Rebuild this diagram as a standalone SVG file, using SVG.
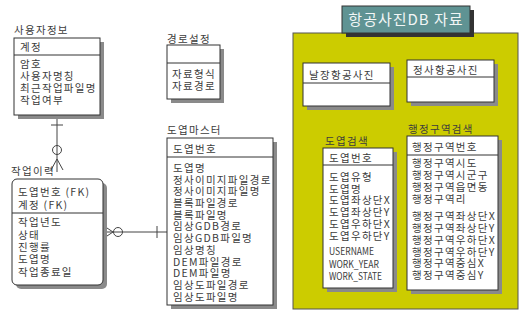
<svg xmlns="http://www.w3.org/2000/svg" width="521" height="320" viewBox="0 0 521 320">
<style>
text{font-family:"Noto Sans CJK KR","Noto Sans",sans-serif;font-size:10.5px;letter-spacing:1.3px;fill:#3c3c3c}
text.lat{letter-spacing:0px;font-size:10px}
.box{fill:#fff;stroke:#333;stroke-width:1}
.sh{fill:#8a8a8a}
.div{stroke:#333;stroke-width:1}
.ln{stroke:#444;stroke-width:1;fill:none}
</style>
<rect width="521" height="320" fill="#fff"/>
<g id="area">
<rect x="293" y="33" width="225" height="276" fill="#cccc00" stroke="#555" stroke-width="1"/>
<rect x="346" y="10" width="128" height="27" fill="#333"/>
<rect x="342" y="6" width="128" height="27" fill="#5f9393" stroke="#333" stroke-width="1"/>
<text x="406" y="25" text-anchor="middle" style="font-size:15px;letter-spacing:1px;fill:#f2f6f6">항공사진DB 자료</text>
</g>
<g id="connectors">
<line class="ln" x1="57" y1="116" x2="57" y2="172"/>
<line class="ln" x1="51" y1="125" x2="63" y2="125"/>
<circle class="ln" cx="57" cy="150" r="4.5" fill="#fff"/>
<line class="ln" x1="57" y1="159" x2="51" y2="170"/>
<line class="ln" x1="57" y1="159" x2="63" y2="170"/>
<line class="ln" x1="104" y1="232" x2="167" y2="232"/>
<line class="ln" x1="113" y1="232" x2="104" y2="226"/>
<line class="ln" x1="113" y1="232" x2="104" y2="238"/>
<circle class="ln" cx="118" cy="232" r="4.5" fill="#fff"/>
<line class="ln" x1="157" y1="226" x2="157" y2="238"/>
</g>
<g id="user">
<text x="14" y="34">사용자정보</text>
<rect class="sh" x="18" y="42" width="86" height="77"/>
<rect class="box" x="14" y="38" width="86" height="77"/>
<line class="div" x1="14" y1="55" x2="100" y2="55"/>
<text x="20" y="51">계정</text>
<text x="20" y="68">암호</text>
<text x="20" y="80">사용자명칭</text>
<text x="20" y="92">최근작업파일명</text>
<text x="20" y="104">작업여부</text>
</g>
<g id="route">
<text x="167" y="43">경로설정</text>
<rect class="sh" x="171" y="49" width="53" height="54"/>
<rect class="box" x="167" y="45" width="53" height="54"/>
<line class="div" x1="167" y1="63" x2="220" y2="63"/>
<text x="172" y="78">자료형식</text>
<text x="172" y="90">자료경로</text>
</g>
<g id="history">
<text x="11" y="175">작업이력</text>
<rect class="sh" x="16" y="183" width="91" height="106" rx="5"/>
<rect class="box" x="12" y="179" width="91" height="106" rx="5"/>
<line class="div" x1="12" y1="213" x2="103" y2="213"/>
<text x="18" y="196">도엽번호 (FK)</text>
<text x="18" y="209">계정 (FK)</text>
<text x="18" y="226">작업년도</text>
<text x="18" y="239">상태</text>
<text x="18" y="251">진행률</text>
<text x="18" y="263">도엽명</text>
<text x="18" y="276">작업종료일</text>
</g>
<g id="master">
<text x="167" y="134">도엽마스터</text>
<rect class="sh" x="171" y="142" width="106" height="167"/>
<rect class="box" x="167" y="138" width="106" height="167"/>
<line class="div" x1="167" y1="157" x2="273" y2="157"/>
<text x="173" y="153">도엽번호</text>
<text x="173" y="172">도엽명</text>
<text x="173" y="184">정사이미지파일경로</text>
<text x="173" y="195">정사이미지파일명</text>
<text x="173" y="207">블록파일경로</text>
<text x="173" y="219">블록파일명</text>
<text x="173" y="230">임상GDB경로</text>
<text x="173" y="242">임상GDB파일명</text>
<text x="173" y="254">임상명칭</text>
<text x="173" y="266">DEM파일경로</text>
<text x="173" y="277">DEM파일명</text>
<text x="173" y="289">임상도파일경로</text>
<text x="173" y="301">임상도파일명</text>
</g>
<g id="raw">
<rect class="sh" x="307" y="67" width="87" height="43"/>
<rect class="box" x="303" y="63" width="87" height="43"/>
<line class="div" x1="303" y1="83" x2="390" y2="83"/>
<text x="309" y="79">날장항공사진</text>
</g>
<g id="ortho">
<rect class="sh" x="411" y="64" width="87" height="42"/>
<rect class="box" x="407" y="60" width="87" height="42"/>
<line class="div" x1="407" y1="77" x2="494" y2="77"/>
<text x="413" y="74">정사항공사진</text>
</g>
<g id="sheet">
<text x="325" y="145">도엽검색</text>
<rect class="sh" x="327" y="152" width="70" height="140"/>
<rect class="box" x="323" y="148" width="70" height="140"/>
<line class="div" x1="323" y1="165" x2="393" y2="165"/>
<text x="329" y="162">도엽번호</text>
<text x="329" y="181">도엽유형</text>
<text x="329" y="193">도엽명</text>
<text x="329" y="204">도엽좌상단X</text>
<text x="329" y="216">도엽좌상단Y</text>
<text x="329" y="228">도엽우하단X</text>
<text x="329" y="240">도엽우하단Y</text>
<text class="lat" x="329" y="255" textLength="45" lengthAdjust="spacingAndGlyphs">USERNAME</text>
<text class="lat" x="329" y="268" textLength="50" lengthAdjust="spacingAndGlyphs">WORK_YEAR</text>
<text class="lat" x="329" y="280" textLength="53" lengthAdjust="spacingAndGlyphs">WORK_STATE</text>
</g>
<g id="admin">
<text x="408" y="133">행정구역검색</text>
<rect class="sh" x="411" y="140" width="91" height="154"/>
<rect class="box" x="407" y="136" width="91" height="154"/>
<line class="div" x1="407" y1="155" x2="498" y2="155"/>
<text x="412" y="151">행정구역번호</text>
<text x="412" y="167">행정구역시도</text>
<text x="412" y="179">행정구역시군구</text>
<text x="412" y="191">행정구역읍면동</text>
<text x="412" y="203">행정구역리</text>
<text x="412" y="220">행정구역좌상단X</text>
<text x="412" y="232">행정구역좌상단Y</text>
<text x="412" y="244">행정구역우하단X</text>
<text x="412" y="256">행정구역우하단Y</text>
<text x="412" y="267">행정구역중심X</text>
<text x="412" y="279">행정구역중심Y</text>
</g>
</svg>
